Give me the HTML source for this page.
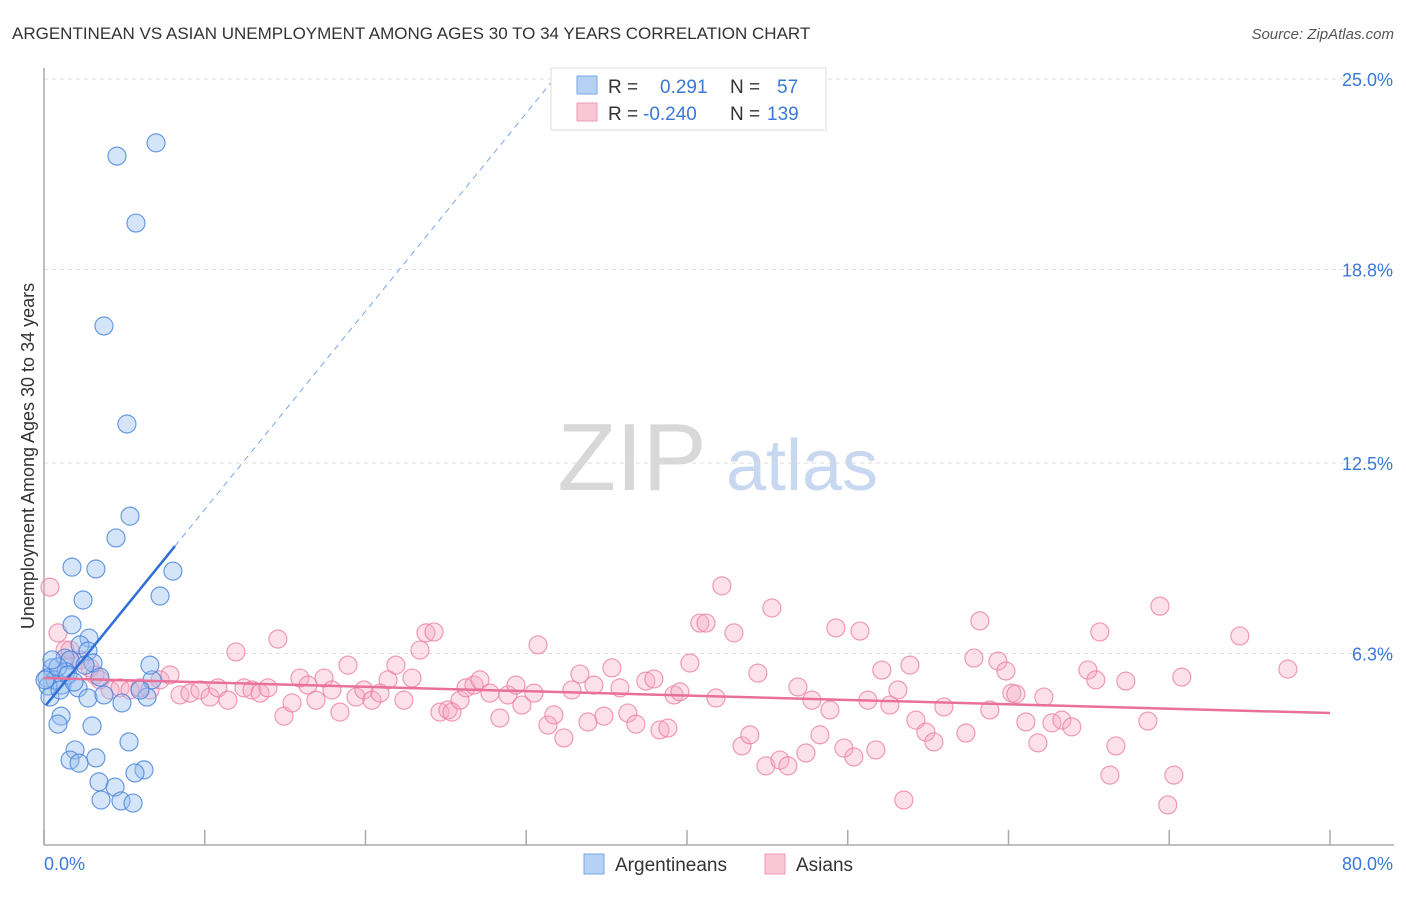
<!DOCTYPE html>
<html><head><meta charset="utf-8"><style>
body{margin:0;background:#fff;font-family:"Liberation Sans",sans-serif;}
svg text{font-family:"Liberation Sans",sans-serif;}
</style></head><body>
<svg id="chart" width="1406" height="892" xmlns="http://www.w3.org/2000/svg">
<text x="12" y="39" font-size="17" fill="#333">ARGENTINEAN VS ASIAN UNEMPLOYMENT AMONG AGES 30 TO 34 YEARS CORRELATION CHART</text>
<text x="1394" y="39" font-size="15" fill="#555" font-style="italic" text-anchor="end">Source: ZipAtlas.com</text>
<g>
<text x="632" y="490" font-size="96" fill="#d8d8d8" font-family="Liberation Serif,serif" text-anchor="middle">ZIP</text>
<text x="802" y="490" font-size="72" fill="#c8d8f0" text-anchor="middle">atlas</text>
</g>
<g id="grid"></g>
<g id="axes"></g>
<g id="pts"></g>
<g id="lines"></g>
<text transform="translate(34,456) rotate(-90)" font-size="18" fill="#333" text-anchor="middle">Unemployment Among Ages 30 to 34 years</text>
<g>
<rect x="551" y="68" width="275" height="62" fill="#fff" stroke="#ddd"/>
<rect x="577" y="76" width="20" height="18" fill="#b7d1f5" stroke="#7aa6e6"/>
<rect x="577" y="103" width="20" height="18" fill="#f9c6d6" stroke="#ee9ab5"/>
<text x="608" y="93" font-size="19" fill="#333">R = </text><text x="660" y="93" font-size="19" fill="#3a78d8">0.291</text>
<text x="730" y="93" font-size="19" fill="#333">N = </text><text x="777" y="93" font-size="19" fill="#3a78d8">57</text>
<text x="608" y="120" font-size="19" fill="#333">R = </text><text x="643" y="120" font-size="19" fill="#3a78d8">-0.240</text>
<text x="730" y="120" font-size="19" fill="#333">N = </text><text x="767" y="120" font-size="19" fill="#3a78d8">139</text>
</g>
<g>
<rect x="584" y="854" width="20" height="20" fill="#b7d1f5" stroke="#7aa6e6"/>
<text x="615" y="871" font-size="19" fill="#333">Argentineans</text>
<rect x="765" y="854" width="20" height="20" fill="#f9c6d6" stroke="#ee9ab5"/>
<text x="796" y="871" font-size="19" fill="#333">Asians</text>
</g>
</svg>
<script>
const yTicks=[6.3,12.5,18.8,25.0];
const yTickLabels=["6.3%","12.5%","18.8%","25.0%"];
const xTickLabels=["0.0%","80.0%"];
const argX=[4.54,6.97,5.72,3.73,5.16,5.35,4.48,1.74,3.23,2.43,7.22,8.02,1.74,2.80,2.24,2.74,1.31,0.50,1.62,3.05,0.19,0.68,1.12,2.12,0.25,1.37,0.87,0.37,2.74,3.73,4.85,6.41,6.72,1.06,0.87,2.99,1.93,1.62,2.18,3.23,5.29,3.42,4.42,6.22,5.66,3.55,4.79,5.54,0.50,1.00,0.06,2.55,5.97,1.49,1.87,3.48,6.59];
const argY=[22.49,22.92,20.31,16.96,13.77,10.77,10.06,9.11,9.05,8.04,8.17,8.98,7.23,6.80,6.58,6.38,6.15,5.83,6.09,5.99,5.50,5.44,5.27,5.18,5.24,5.70,5.86,4.88,4.85,4.95,4.69,4.88,5.44,4.26,4.00,3.94,3.16,2.83,2.73,2.90,3.42,2.12,1.95,2.51,2.41,1.53,1.50,1.43,6.09,5.11,5.44,5.92,5.11,5.60,5.37,5.53,5.92];
const asX=[0.37,0.87,1.31,1.62,2.24,2.86,3.48,4.11,4.73,5.35,5.97,6.59,7.22,7.84,8.46,9.08,9.70,10.33,10.82,11.44,11.94,12.44,12.94,13.44,13.93,14.55,14.93,15.43,15.92,16.42,16.92,17.42,17.91,18.41,18.91,19.41,19.90,20.40,20.90,21.40,21.89,22.39,22.89,23.39,23.76,24.26,24.63,25.13,25.38,25.88,26.25,26.75,27.12,27.74,28.36,28.86,29.36,29.73,30.48,30.73,31.35,31.72,32.34,32.84,33.34,33.84,34.21,34.83,35.33,35.83,36.32,36.82,37.44,37.94,38.32,38.81,39.19,39.56,40.18,40.80,41.18,41.80,42.17,42.92,43.42,43.91,44.41,44.91,45.28,45.78,46.28,46.90,47.40,47.77,48.27,48.89,49.26,49.76,50.38,50.76,51.25,51.75,52.12,52.62,53.12,53.49,53.87,54.24,54.86,55.36,55.98,57.35,57.85,58.22,58.84,59.34,59.84,60.21,60.46,61.08,61.83,62.20,62.70,63.32,63.94,64.94,65.43,65.68,66.31,66.68,67.30,68.67,69.42,69.91,70.29,70.78,74.39,77.38,1.62,3.17];
const asY=[8.46,6.97,6.41,6.09,6.09,5.83,5.44,5.11,5.18,5.11,5.18,5.11,5.44,5.60,4.95,5.01,5.11,4.88,5.18,4.78,6.35,5.18,5.11,5.01,5.18,6.77,4.26,4.69,5.50,5.27,4.78,5.50,5.11,4.39,5.92,4.88,5.11,4.78,5.01,5.44,5.92,4.78,5.50,6.41,6.97,7.00,4.39,4.46,4.39,4.78,5.18,5.27,5.44,5.01,4.20,4.95,5.27,4.62,5.01,6.58,3.97,4.30,3.55,5.11,5.63,4.07,5.27,4.26,5.83,5.18,4.36,4.00,5.40,5.47,3.81,3.87,4.95,5.05,5.99,7.29,7.29,4.85,8.50,6.97,3.29,3.65,5.66,2.64,7.78,2.83,2.64,5.21,3.06,4.78,3.65,4.46,7.13,3.22,2.93,7.03,4.78,3.16,5.76,4.62,5.11,1.53,5.92,4.13,3.74,3.42,4.56,3.71,6.15,7.36,4.46,6.05,5.73,5.01,4.98,4.07,3.39,4.88,4.04,4.13,3.91,5.76,5.44,7.00,2.34,3.29,5.40,4.10,7.84,1.37,2.34,5.53,6.87,5.79,6.41,5.60];
const argTrend=[4.54,0.645];
const asTrend=[5.50,-0.01425];

const NS="http://www.w3.org/2000/svg";
const X0=44,X1=1330,Y0=847,YPER=30.72;
function sx(v){return X0+(X1-X0)*v/80;}
function sy(v){return Y0-v*YPER;}
function mk(tag,attrs,parent){const e=document.createElementNS(NS,tag);for(const k in attrs)e.setAttribute(k,attrs[k]);parent.appendChild(e);return e;}
const grid=document.getElementById('grid'),axes=document.getElementById('axes'),pts=document.getElementById('pts'),lines=document.getElementById('lines');
yTicks.forEach((t,i)=>{
 const l=mk('line',{x1:X0,x2:1394,y1:sy(t),y2:sy(t),stroke:'#ddd','stroke-dasharray':'4,4'},grid);
 
 
 const tx=mk('text',{x:1393,y:sy(t)+7,'font-size':18,fill:'#3a78d8','text-anchor':'end'},grid);
 tx.textContent=yTickLabels[i];
 
 
});
const ya=mk('line',{x1:X0,x2:X0,y1:68,y2:845,stroke:'#aaa','stroke-width':1.5},axes);


const xa=mk('line',{x1:X0,x2:1394,y1:845,y2:845,stroke:'#aaa','stroke-width':1.5},axes);


for(let v=0;v<=80;v+=10){
 const t=mk('line',{x1:sx(v),x2:sx(v),y1:830,y2:845,stroke:'#aaa','stroke-width':1.5},axes);
 
 
}
const xl0=mk('text',{x:44,y:870,'font-size':18,fill:'#3a78d8'},axes);xl0.textContent=xTickLabels[0];


const xl1=mk('text',{x:1393,y:870,'font-size':18,fill:'#3a78d8','text-anchor':'end'},axes);xl1.textContent=xTickLabels[1];


asX.forEach((x,i)=>{
 const c=mk('circle',{cx:sx(x),cy:sy(asY[i]),r:9,fill:'rgba(246,170,196,0.35)',stroke:'rgba(236,130,165,0.8)','stroke-width':1.2},pts);
 
 
});
argX.forEach((x,i)=>{
 const c=mk('circle',{cx:sx(x),cy:sy(argY[i]),r:9,fill:'rgba(150,190,240,0.4)',stroke:'rgba(70,130,220,0.8)','stroke-width':1.2},pts);
 
 
});
const aEnd=(25-argTrend[0])/argTrend[1];
const l1=mk('line',{x1:sx(0.12),y1:sy(argTrend[0]+argTrend[1]*0.12),x2:sx(8.15),y2:sy(argTrend[0]+argTrend[1]*8.15),stroke:'#2f6fd6','stroke-width':2.5},lines);


const l2=mk('line',{x1:sx(8.15),y1:sy(argTrend[0]+argTrend[1]*8.15),x2:sx(aEnd),y2:sy(25),stroke:'#7aa6e6','stroke-width':1,'stroke-dasharray':'6,5'},lines);


const l3=mk('line',{x1:sx(0),y1:sy(asTrend[0]),x2:sx(80),y2:sy(asTrend[0]+asTrend[1]*80),stroke:'#e8709a','stroke-width':2.5},lines);


</script>
</body></html>
